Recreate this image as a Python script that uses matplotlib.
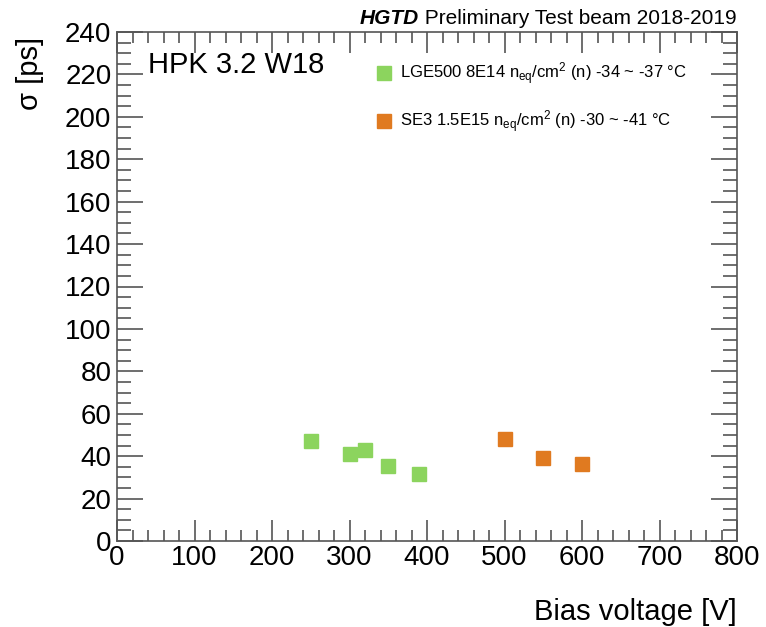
import matplotlib
matplotlib.use("Agg")
import matplotlib.pyplot as plt
from matplotlib.ticker import MultipleLocator

plt.rcParams['font.family'] = ['Liberation Sans', 'DejaVu Sans']
plt.rcParams['mathtext.fontset'] = 'custom'
plt.rcParams['mathtext.rm'] = 'Liberation Sans'
plt.rcParams['mathtext.it'] = 'Liberation Sans:italic'

# ---------- data ----------
lge_bias = [250, 300, 320, 350, 390]
lge_sigma = [47.3, 41.0, 43.0, 35.5, 31.5]

se3_bias = [500, 550, 600]
se3_sigma = [48.2, 39.0, 36.3]

lge_label = r"LGE500 8E14 n$_{\mathrm{eq}}$/cm$^{2}$ (n) -34 ~ -37 °C"
se3_label = r"SE3 1.5E15 n$_{\mathrm{eq}}$/cm$^{2}$ (n) -30 ~ -41 °C"

green = '#8cd45e'
orange = '#e07a20'
axis_col = '#555555'

# ---------- figure ----------
fig = plt.figure(figsize=(7.66, 6.27), dpi=100)
ax = fig.add_axes([117 / 766, 86 / 627, 620 / 766, 509 / 627])

ax.plot(lge_bias, lge_sigma, 's', color=green, markersize=9.5, label=lge_label)
ax.plot(se3_bias, se3_sigma, 's', color=orange, markersize=9.5, label=se3_label)

ax.set_xlim(0, 800)
ax.set_ylim(0, 240)
ax.xaxis.set_major_locator(MultipleLocator(100))
ax.xaxis.set_minor_locator(MultipleLocator(20))
ax.yaxis.set_major_locator(MultipleLocator(20))
ax.yaxis.set_minor_locator(MultipleLocator(5))

ax.tick_params(which='both', direction='in', top=True, right=True,
               color=axis_col, labelsize=20)
ax.tick_params(axis='x', which='major', length=15, width=1.2, pad=3)
ax.tick_params(axis='x', which='minor', length=8, width=1.2)
ax.tick_params(axis='y', which='major', length=19, width=1.2, pad=4)
ax.tick_params(axis='y', which='minor', length=10, width=1.2)
for s in ax.spines.values():
    s.set_color(axis_col)
    s.set_linewidth(1.2)

ax.set_xlabel("Bias voltage [V]", fontsize=21, ha='right', va='center')
ax.xaxis.set_label_coords(1.0, -0.14)
ax.set_ylabel("σ [ps]", fontsize=21, ha='right', va='center')
ax.yaxis.set_label_coords(-0.14, 0.99)

ax.text(0.05, 0.935, "HPK 3.2 W18", transform=ax.transAxes, fontsize=21,
        va='center', ha='left')

ax.legend(loc='upper left', bbox_to_anchor=(0.404, 0.96), frameon=False,
          fontsize=12, labelspacing=1.3, handletextpad=0.45,
          handlelength=1.0, borderpad=0, numpoints=1)

# title: bold italic HGTD + regular text
t = fig.text(737 / 766, 1 - 24 / 627, " Preliminary Test beam 2018-2019",
             ha='right', va='baseline', fontsize=15)
fig.canvas.draw()
bb = t.get_window_extent()
fig.text(bb.x0 / fig.bbox.width, 1 - 24 / 627, "HGTD", ha='right',
         va='baseline', fontsize=15, fontweight='bold', fontstyle='italic')

fig.savefig("out.png", dpi=100)
